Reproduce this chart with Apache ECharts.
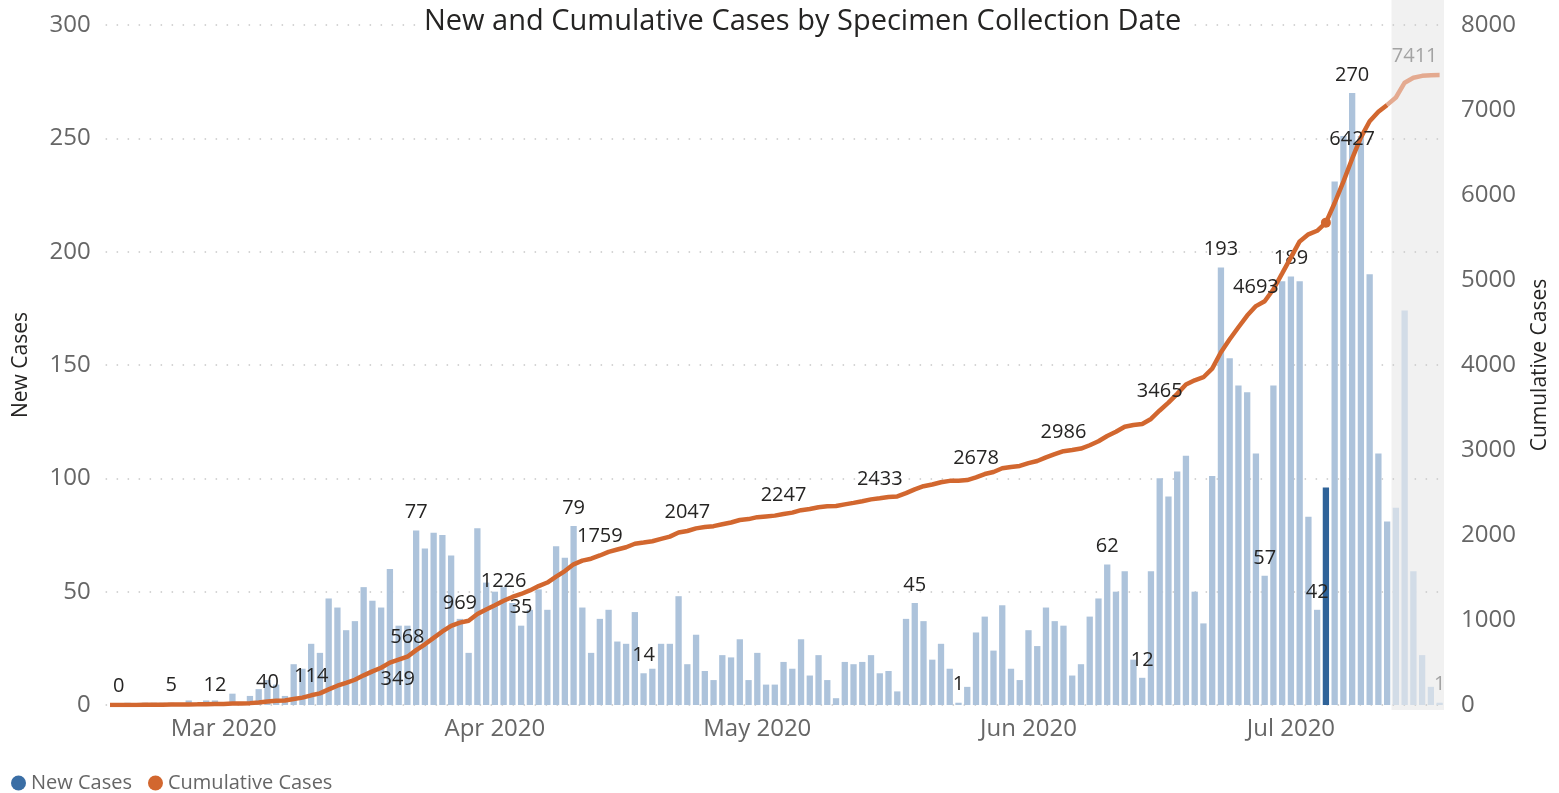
<!DOCTYPE html>
<html>
<head>
<meta charset="utf-8">
<title>New and Cumulative Cases by Specimen Collection Date</title>
<script src="https://cdn.jsdelivr.net/npm/echarts@6/dist/echarts.min.js"></script>
<style>
  html, body { margin: 0; padding: 0; background: #fff; }
  #chart { width: 1559px; height: 793px; }
</style>
</head>
<body>
<div id="chart"></div>
<script>
// daily new cases, 17 Feb 2020 .. 18 Jul 2020
var newCases = [
  0, 0, 1, 0, 1, 1, 1, 1, 0, 2, 1, 2, 2,
  0, 5, 1, 4, 7, 11, 9, 4, 18, 16, 27, 23, 47, 43, 33, 37, 52, 46, 43, 60, 35, 35, 77, 69, 76, 75, 66, 38, 23, 78, 54,
  50, 52, 45, 35, 42, 51, 42, 70, 65, 79, 43, 23, 38, 42, 28, 27, 41, 14, 16, 27, 27, 48, 18, 31, 15, 11, 22, 21, 29, 11,
  23, 9, 9, 19, 16, 29, 13, 22, 11, 3, 19, 18, 19, 22, 14, 15, 6, 38, 45, 37, 20, 27, 16, 1, 8, 32, 39, 24, 44, 16, 11,
  33, 26, 43, 37, 35, 13, 18, 39, 47, 62, 50, 59, 20, 12, 59, 100, 92, 103, 110, 50, 36, 101, 193, 153, 141, 138, 111, 57, 141, 187,
  189, 187, 83, 42, 96, 231, 251, 270, 251, 190, 111, 81, 87, 174, 59, 22, 8, 1
]

var cumulativeCases = [
  0, 0, 1, 1, 2, 3, 4, 5, 5, 7, 8, 10, 12,
  12, 17, 18, 22, 29, 40, 49, 53, 71, 87, 114, 137, 184, 227, 260, 297, 349, 395, 438, 498, 533, 568, 645, 714, 790, 865, 931, 969, 992, 1070, 1124,
  1174, 1226, 1271, 1306, 1348, 1399, 1441, 1511, 1576, 1655, 1698, 1721, 1759, 1801, 1829, 1856, 1897, 1911, 1927, 1954, 1981, 2029, 2047, 2078, 2093, 2104, 2126, 2147, 2176, 2187,
  2210, 2219, 2228, 2247, 2263, 2292, 2305, 2327, 2338, 2341, 2360, 2378, 2397, 2419, 2433, 2448, 2454, 2492, 2537, 2574, 2594, 2621, 2637, 2638, 2646, 2678, 2717, 2741, 2785, 2801, 2812,
  2845, 2871, 2914, 2951, 2986, 2999, 3017, 3056, 3103, 3165, 3215, 3274, 3294, 3306, 3365, 3465, 3557, 3660, 3770, 3820, 3856, 3957, 4150, 4303, 4444, 4582, 4693, 4750, 4891, 5078,
  5267, 5454, 5537, 5579, 5675, 5906, 6157, 6427, 6678, 6868, 6979, 7060, 7147, 7321, 7380, 7402, 7410, 7411
]

var startDate = Date.UTC(2020, 1, 17)
var monthNames = ['Jan', 'Feb', 'Mar', 'Apr', 'May', 'Jun', 'Jul', 'Aug', 'Sep', 'Oct', 'Nov', 'Dec']
var monthTickIndex = [13, 44, 74, 105, 135]
var leftTicks = { min: 0, max: 300, interval: 50 }
var rightTicks = { min: 0, max: 8000, interval: 1000 }

// points with data labels
var barLabelIndex = [35, 47, 53, 61, 92, 97, 114, 118, 127, 132, 135, 138, 142, 152]
var cumLabelIndex = [1, 7, 12, 18, 23, 29, 34, 40, 45, 56, 66, 77, 88, 99, 109, 120, 131, 142, 152]
var selectedIndex = 139
var incompleteFrom = 147

var dates = []
for (var d = 0; d < newCases.length; d++) {
  var dt = new Date(startDate + d * 86400000)
  dates.push(dt.toISOString().slice(0, 10))
}

var FONT = "'Open Sans', 'Noto Sans', sans-serif"
var barColor = '#adc3db'
var barFaded = '#d2dce7'
var barSelected = '#2f6399'
var lineColor = '#d2672f'
var lineFaded = '#e4aa90'
var labelColor = '#252423'
var fadedLabel = '#a3a3a3'
var lastIndex = newCases.length - 1

var barData = newCases.map(function(v, i) {
  var item = { value: v }
  if (i === selectedIndex) item.itemStyle = { color: barSelected }
  else if (i >= incompleteFrom) item.itemStyle = { color: barFaded }
  if (barLabelIndex.indexOf(i) >= 0) {
    item.label = { show: true, color: i >= incompleteFrom ? fadedLabel : labelColor }
  }
  return item
})

function cumItem(v, i) {
  var item = { value: v }
  if (cumLabelIndex.indexOf(i) >= 0) {
    item.label = { show: true }
    if (i === 29) item.label.offset = [34, 23]
    if (i === lastIndex) {
      item.label.offset = [-25, 0]
      item.label.color = fadedLabel
    }
  }
  return item
}

// solid part up to the last complete day, faded part over the incomplete days
var lineSolid = cumulativeCases.map(function(v, i) {
  return i <= incompleteFrom - 1 ? cumItem(v, i) : null
})
var lineFadedData = cumulativeCases.map(function(v, i) {
  if (i < incompleteFrom - 1) return null
  if (i === incompleteFrom - 1) return { value: v }
  return cumItem(v, i)
})

var chart = echarts.init(document.getElementById('chart'))

var cumLabel = {
  show: false,
  position: 'top',
  distance: 9,
  fontFamily: FONT,
  fontSize: 20,
  color: labelColor
}

chart.setOption({
  backgroundColor: '#fff',
  animation: false,
  textStyle: { fontFamily: FONT },
  title: {
    text: 'New and Cumulative Cases by Specimen Collection Date',
    left: 418,
    top: 5,
    backgroundColor: '#fff',
    padding: [2, 6],
    textStyle: {
      fontFamily: FONT,
      fontSize: 29,
      fontWeight: 'normal',
      color: labelColor
    }
  },
  legend: {
    left: 6,
    top: 768,
    icon: 'circle',
    itemWidth: 15,
    itemHeight: 15,
    itemGap: 16,
    textStyle: { fontFamily: FONT, fontSize: 20, color: '#666' },
    data: [
      { name: 'New Cases', itemStyle: { color: '#3a6ea5' } },
      { name: 'Cumulative Cases', itemStyle: { color: lineColor } }
    ]
  },
  grid: {
    left: 105.6,
    right: 114.6,
    top: 25,
    bottom: 88,
    containLabel: false
  },
  xAxis: {
    type: 'category',
    data: dates,
    boundaryGap: true,
    axisLine: { show: false },
    axisTick: { show: false },
    axisLabel: {
      interval: function(index) {
        return monthTickIndex.indexOf(index) >= 0
      },
      formatter: function(value) {
        var m = parseInt(value.slice(5, 7), 10) - 1
        return monthNames[m] + ' ' + value.slice(0, 4)
      },
      margin: 12,
      fontFamily: FONT,
      fontSize: 24,
      color: '#666'
    }
  },
  yAxis: [{
    type: 'value',
    name: 'New Cases',
    nameLocation: 'middle',
    nameGap: 74,
    nameRotate: 90,
    nameTextStyle: { fontFamily: FONT, fontSize: 21, color: labelColor },
    min: leftTicks.min,
    max: leftTicks.max,
    interval: leftTicks.interval,
    axisLine: { show: false },
    axisTick: { show: false },
    axisLabel: { margin: 15, fontFamily: FONT, fontSize: 24, color: '#666' },
    splitLine: {
      show: true,
      lineStyle: { color: '#c8c8c8', width: 1.5, type: [1.5, 9.5] }
    }
  }, {
    type: 'value',
    name: 'Cumulative Cases',
    nameLocation: 'middle',
    nameGap: 86,
    nameRotate: 90,
    nameTextStyle: { fontFamily: FONT, fontSize: 21, color: labelColor },
    min: rightTicks.min,
    max: rightTicks.max,
    interval: rightTicks.interval,
    position: 'right',
    axisLine: { show: false },
    axisTick: { show: false },
    axisLabel: {
      margin: 17,
      fontFamily: FONT,
      fontSize: 24,
      color: '#666',
      formatter: function(v) { return String(v) }
    },
    splitLine: { show: false }
  }],
  series: [{
    name: 'New Cases',
    type: 'bar',
    barCategoryGap: '28%',
    itemStyle: { color: barColor },
    label: {
      show: false,
      position: 'top',
      distance: 8,
      fontFamily: FONT,
      fontSize: 20,
      color: labelColor
    },
    data: barData
  }, {
    name: 'Cumulative Cases',
    type: 'line',
    yAxisIndex: 1,
    symbol: 'circle',
    showSymbol: true,
    showAllSymbol: true,
    symbolSize: function(v, p) {
      return p.dataIndex === selectedIndex ? 10 : 0
    },
    connectNulls: false,
    lineStyle: { width: 4.5, color: lineColor },
    itemStyle: { color: lineColor },
    label: cumLabel,
    z: 3,
    data: lineSolid
  }, {
    name: 'Cumulative (incomplete)',
    type: 'line',
    yAxisIndex: 1,
    symbol: 'circle',
    showSymbol: true,
    showAllSymbol: true,
    symbolSize: 0,
    lineStyle: { width: 4.5, color: lineFaded },
    itemStyle: { color: lineFaded },
    label: cumLabel,
    z: 3,
    data: lineFadedData
  }]
})

// grey band over the incomplete days, placed from the axis scales
var band = chart.convertToPixel({ xAxisIndex: 0 }, dates[1]) - chart.convertToPixel({ xAxisIndex: 0 }, dates[0])
var shadeLeft = chart.convertToPixel({ xAxisIndex: 0 }, dates[incompleteFrom]) - band / 2
var shadeRight = chart.convertToPixel({ xAxisIndex: 0 }, dates[lastIndex]) + band / 2
var baseY = chart.convertToPixel({ yAxisIndex: 0 }, 0)

chart.setOption({
  graphic: [{
    type: 'rect',
    silent: true,
    z: -1,
    shape: { x: shadeLeft, y: 0, width: shadeRight - shadeLeft, height: baseY + 5 },
    style: { fill: '#f1f1f1' }
  }]
})
</script>
</body>
</html>
